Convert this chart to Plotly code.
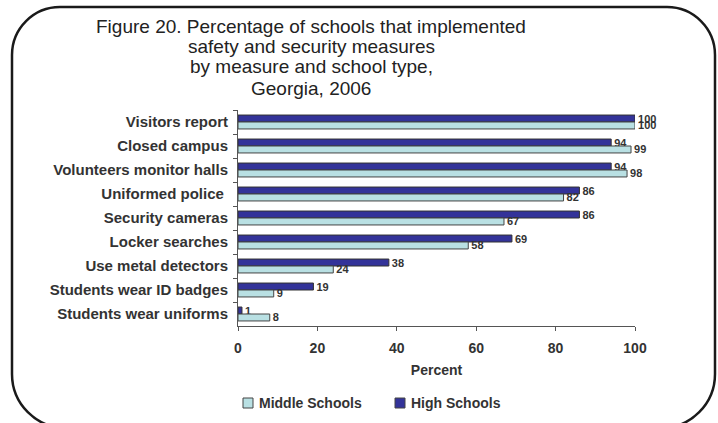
import plotly.graph_objects as go

categories = ["Visitors report", "Closed campus", "Volunteers monitor halls",
              "Uniformed police\u00a0", "Security cameras", "Locker searches",
              "Use metal detectors", "Students wear ID badges", "Students wear uniforms"]
high_schools = [100, 94, 94, 86, 86, 69, 38, 19, 1]
middle_schools = [100, 99, 98, 82, 67, 58, 24, 9, 8]
x_ticks = [0, 20, 40, 60, 80, 100]
title_lines = ["Figure 20. Percentage of schools that implemented",
               "safety and security measures",
               "by measure and school type,",
               "Georgia, 2006"]
legend_names = ["Middle Schools", "High Schools"]
MIDDLE_COLOR = "#B9E0E3"
HIGH_COLOR = "#333399"

W, H = 718, 423
L, R, T, B = 238, 635, 110, 326
FONT = "Liberation Sans, Arial"

def px(x):
    return (x - L) / (R - L)

def py(y):
    return (B - y) / (B - T)

fig = go.Figure()
fig.add_trace(go.Bar(
    y=categories, x=high_schools, orientation="h", name="High Schools",
    marker=dict(color=HIGH_COLOR, line=dict(color="#333333", width=1)),
    text=[str(v) for v in high_schools], textposition="outside", constraintext="none",
    textfont=dict(family=FONT, size=11, color="#333333", weight="bold"),
    cliponaxis=False, showlegend=False,
))
fig.add_trace(go.Bar(
    y=categories, x=middle_schools, orientation="h", name="Middle Schools",
    marker=dict(color=MIDDLE_COLOR, line=dict(color="#444444", width=1)),
    text=[str(v) for v in middle_schools], textposition="outside", constraintext="none",
    textfont=dict(family=FONT, size=11, color="#333333", weight="bold"),
    cliponaxis=False, showlegend=False,
))

# rounded border
l, r, t, b = 12, 715, 7, 428
rt, rb = 48, 54
kt, kb = 0.5523 * rt, 0.5523 * rb
pts = [
    f"M {px(l)},{py(t+rt)}",
    f"C {px(l)},{py(t+rt-kt)} {px(l+rt-kt)},{py(t)} {px(l+rt)},{py(t)}",
    f"L {px(r-rt)},{py(t)}",
    f"C {px(r-rt+kt)},{py(t)} {px(r)},{py(t+rt-kt)} {px(r)},{py(t+rt)}",
    f"L {px(r)},{py(b-rb)}",
    f"C {px(r)},{py(b-rb+kb)} {px(r-rb+kb)},{py(b)} {px(r-rb)},{py(b)}",
    f"L {px(l+rb)},{py(b)}",
    f"C {px(l+rb-kb)},{py(b)} {px(l)},{py(b-rb+kb)} {px(l)},{py(b-rb)}",
    "Z",
]
fig.add_shape(type="path", path=" ".join(pts), xref="paper", yref="paper",
              line=dict(color="#1a1a1a", width=2.5), layer="above")

title_y = [27, 47, 67, 88]
for line, yy in zip(title_lines, title_y):
    fig.add_annotation(text=line, x=px(311), y=py(yy), xref="paper", yref="paper",
                       showarrow=False, xanchor="center", yanchor="middle",
                       font=dict(family=FONT, size=19, color="#222222"))

# legend (manual, to match the reference's spacing)
legend_sw_x = [243, 395]
legend_colors = [MIDDLE_COLOR, HIGH_COLOR]
for name, sx, col in zip(legend_names, legend_sw_x, legend_colors):
    fig.add_shape(type="rect", xref="paper", yref="paper",
                  x0=px(sx), x1=px(sx + 10), y0=py(398), y1=py(408),
                  fillcolor=col, line=dict(color="#444444", width=1))
    fig.add_annotation(text=name, x=px(sx + 14), y=py(403), xref="paper", yref="paper",
                       showarrow=False, xanchor="left", yanchor="middle",
                       font=dict(family=FONT, size=14, color="#333333", weight="bold"))

fig.update_layout(
    width=W, height=H,
    margin=dict(l=L, r=W - R, t=T, b=H - B, pad=0),
    paper_bgcolor="white", plot_bgcolor="white",
    barmode="group", bargap=0.42, bargroupgap=0,
    font=dict(family=FONT, color="#333333"),
    showlegend=False,
    xaxis=dict(range=[0, 100], tickvals=x_ticks, showgrid=False, zeroline=False,
               showline=True, linecolor="#555555", linewidth=1,
               ticks="outside", ticklen=4, tickcolor="#555555", ticklabelstandoff=5,
               tickfont=dict(size=14, weight="bold", color="#333333"),
               title=dict(text="Percent", font=dict(size=14, weight="bold", color="#333333"),
                          standoff=10)),
    yaxis=dict(autorange="reversed", showgrid=False, showline=True, linecolor="#555555",
               linewidth=1, ticks="outside", ticklen=4, tickcolor="#555555",
               tickson="boundaries", ticklabelstandoff=6,
               tickfont=dict(size=15, weight="bold", color="#333333")),
)

fig.write_html("out.html")
